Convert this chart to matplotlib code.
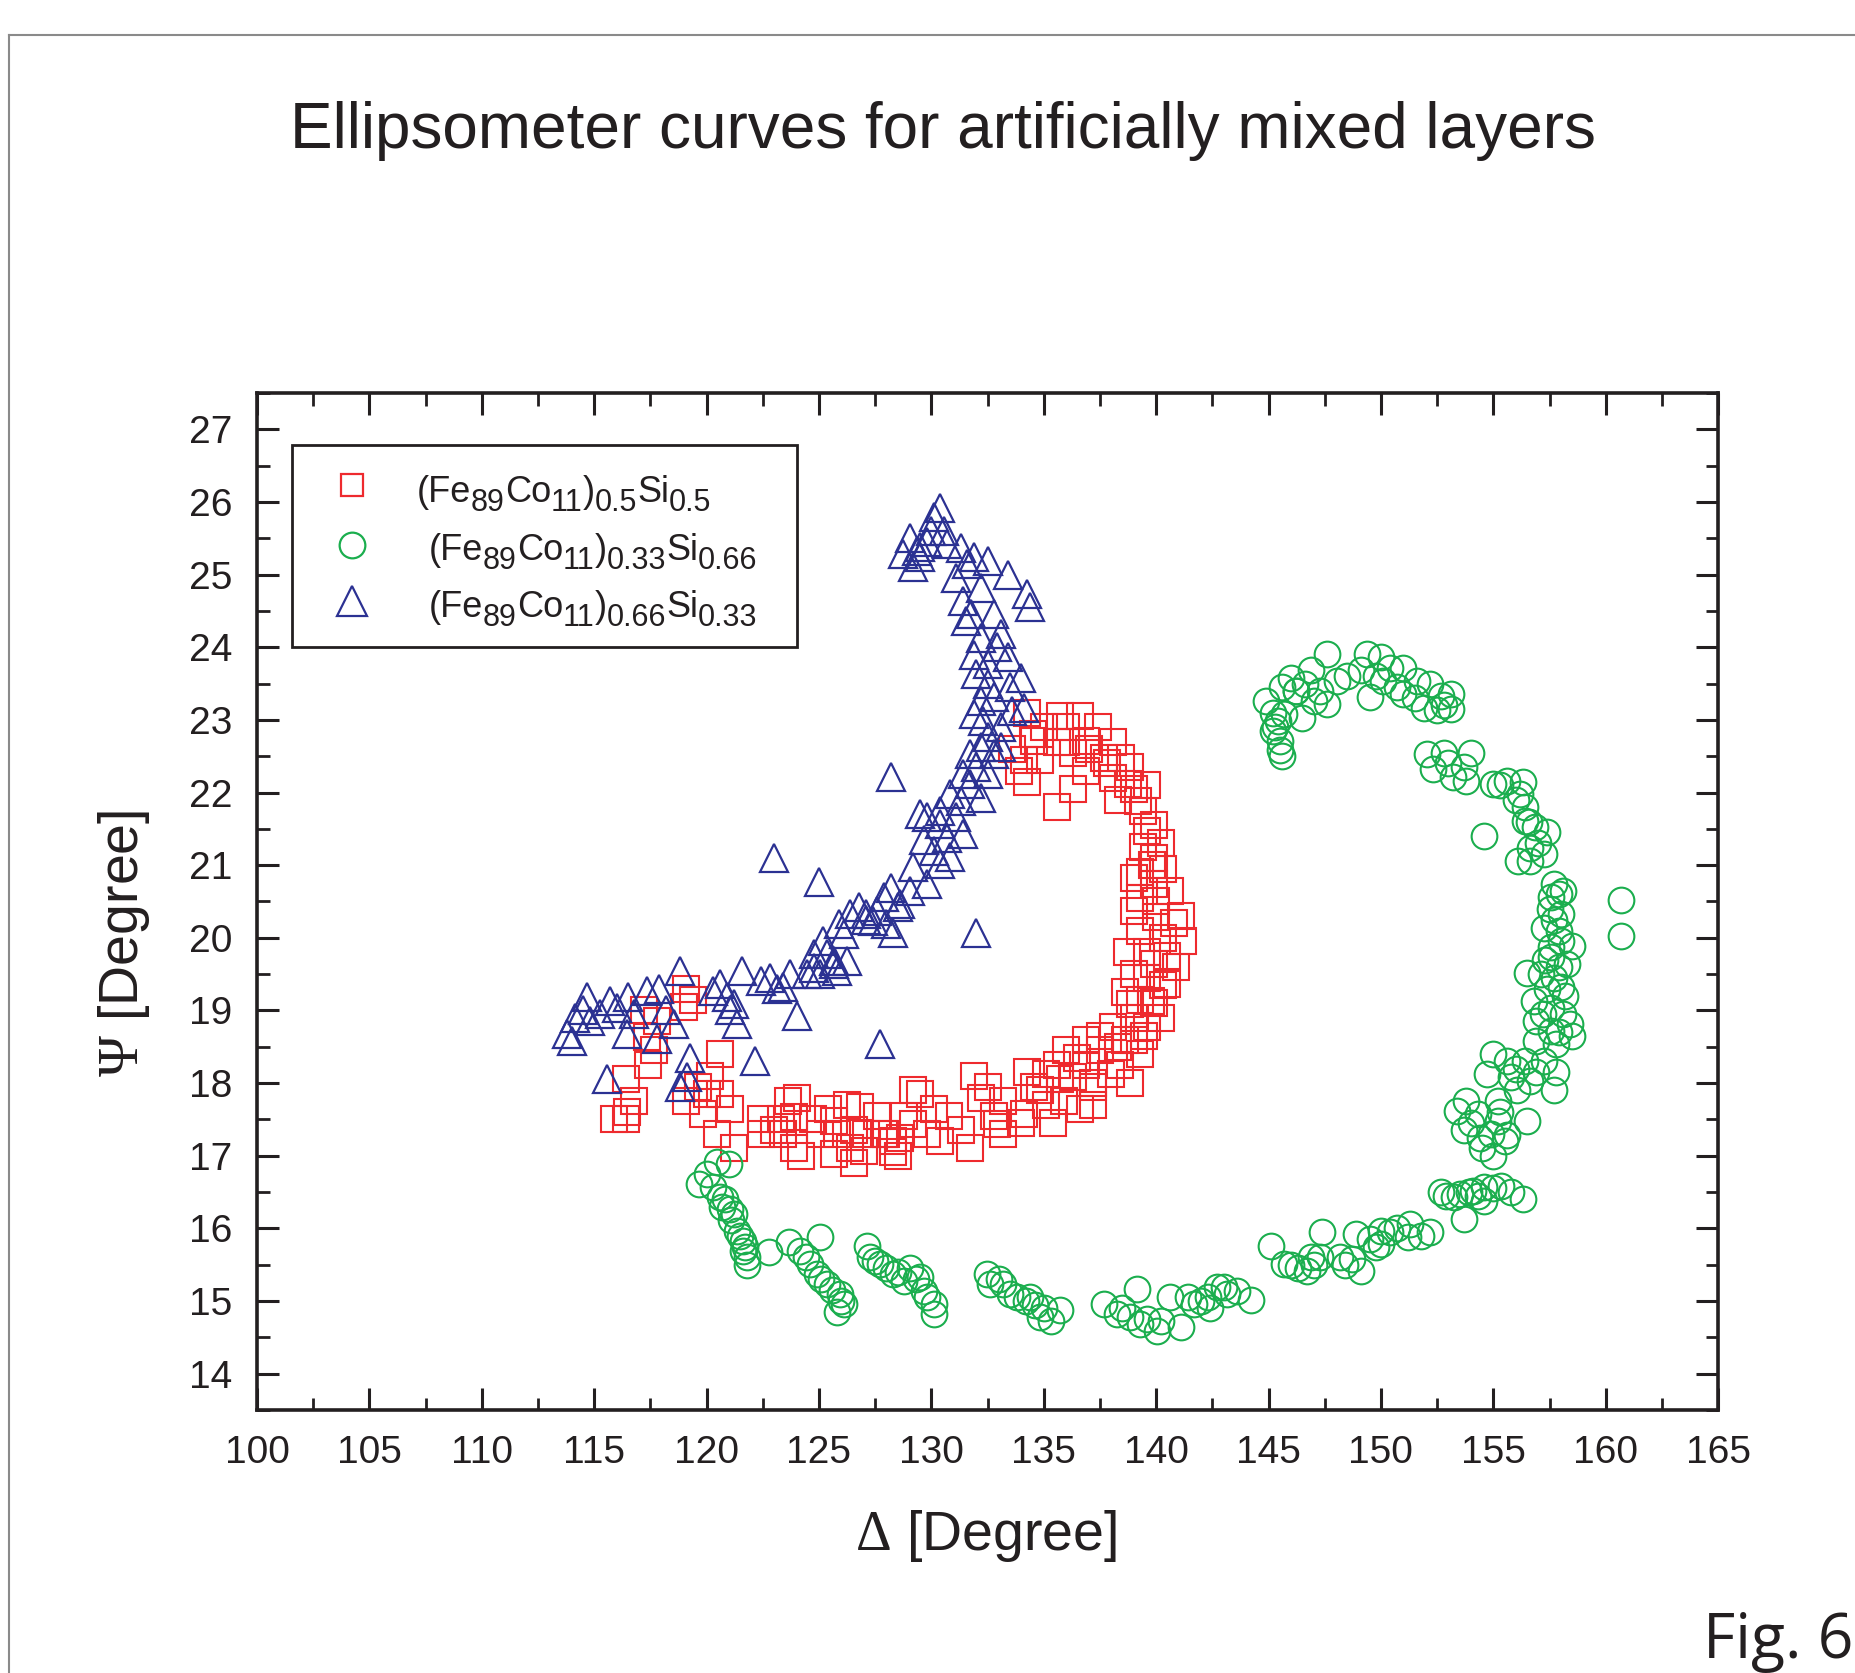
import matplotlib
matplotlib.use("Agg")
import matplotlib.pyplot as plt
from matplotlib.lines import Line2D
from matplotlib.patches import Rectangle
from matplotlib.ticker import MultipleLocator

plt.rcParams['font.family'] = ['Liberation Sans', 'DejaVu Sans']
plt.rcParams['mathtext.fontset'] = 'custom'
plt.rcParams['mathtext.rm'] = 'Liberation Sans'
plt.rcParams['mathtext.it'] = 'Liberation Sans'
plt.rcParams['mathtext.tt'] = 'Liberation Serif'
plt.rcParams['mathtext.default'] = 'regular'

# (Fe89Co11)0.5Si0.5 -- red squares
red_x = [115.9, 116.4, 116.45, 116.75, 116.4, 117.4, 117.65, 117.8, 119.0, 119.4, 119.1, 119.1,
         120.0, 120.15, 120.6, 121.05, 120.45, 121.2, 122.4, 122.4, 123.3, 123.4, 123.6, 123.9,
         124.0, 124.2, 124.75, 125.05, 125.4, 125.8, 126.25, 126.4, 126.55, 126.55, 127.1, 127.6,
         128.0, 128.3, 128.3, 128.5, 128.8, 129.2, 129.5, 130.1, 130.4, 130.8, 131.7, 131.9,
         132.5, 132.8, 133.2, 133.2, 134.0, 134.25, 134.85, 135.1, 135.4, 135.6, 135.7, 136.0,
         136.6, 136.9, 136.9, 137.2, 137.2, 137.5, 138.3, 138.4, 138.6, 138.85, 139.3, 139.45,
         139.0, 140.2, 139.3, 138.6, 139.6, 140.3, 140.5, 139.6, 138.7, 140.3, 141.2, 141.1,
         139.3, 140.0, 140.6, 139.3, 140.3, 139.4, 140.2, 139.9, 139.4, 139.6, 139.0, 138.85,
         138.1, 138.1, 137.4, 136.6, 135.7, 135.0, 134.25, 134.1, 134.85, 134.25, 135.6, 136.3,
         136.9, 136.3, 135.6, 136.0, 137.0, 137.8, 134.5, 133.6, 133.9, 138.3, 139.8, 140.8,
         140.9, 139.9, 139.0,
         134.55, 136.0, 136.9, 137.7, 138.45, 138.75, 139.2, 139.6, 139.9, 139.0, 139.9, 139.0,
         140.0, 139.3, 139.9, 139.0, 140.5, 139.75, 138.85, 139.6, 138.1, 137.5, 136.5, 138.0,
         136.3, 135.1, 134.55, 135.9, 137.2, 134.1, 132.9, 132.2, 131.3, 129.8, 129.2, 128.6,
         120.6, 119.6, 119.86, 123.0, 125.65, 126.84, 127.9, 127.0, 125.65, 123.87, 117.2, 117.35]
red_y = [17.5, 17.5, 17.6, 17.75, 18.05, 18.25, 18.45, 18.85, 19.05, 19.15, 19.3, 17.75,
         17.85, 18.1, 18.4, 17.65, 17.3, 17.1, 17.5, 17.3, 17.5, 17.3, 17.75, 17.1,
         17.8, 17.0, 17.5, 17.3, 17.65, 17.3, 17.7, 17.1, 16.9, 17.35, 17.3, 17.55,
         17.3, 17.2, 17.05, 17.0, 17.55, 17.9, 17.85, 17.65, 17.2, 17.55, 17.1, 18.1,
         17.95, 17.55, 17.75, 17.3, 17.45, 18.15, 17.9, 17.7, 17.45, 18.25, 18.05, 18.45,
         17.65, 18.25, 18.6, 18.0, 17.7, 18.65, 18.5, 18.25, 18.6, 18.0, 18.4, 18.65,
         18.9, 18.9, 19.15, 19.25, 19.45, 19.35, 19.75, 19.8, 19.8, 20.0, 19.95, 20.3,
         20.55, 20.5, 20.65, 20.9, 20.95, 21.25, 21.3, 21.55, 21.75, 22.1, 22.05, 22.35,
         22.2, 22.7, 22.9, 23.05, 23.05, 22.9, 23.1, 22.45, 22.45, 22.15, 22.7, 22.55,
         22.3, 22.05, 21.8, 22.7, 22.6, 22.4, 22.8, 22.6, 22.3, 21.9, 21.0, 20.2,
         19.6, 19.1, 18.6,
         22.71, 22.9, 22.71, 22.48, 22.48, 22.12, 21.89, 21.47, 21.1, 20.83, 20.74, 20.37,
         20.28, 20.1, 19.64, 19.5, 19.36, 19.13, 19.09, 18.77, 18.77, 18.45, 18.35, 18.13,
         18.08, 18.13, 17.94, 17.76, 17.94, 17.58, 17.44, 17.8, 17.35, 17.3, 17.44, 17.25,
         17.85, 17.94, 17.58, 17.35, 17.48, 17.67, 17.3, 17.07, 17.02, 17.53, 19.0, 18.63]

# (Fe89Co11)0.33Si0.66 -- green circles
green_x = [120.46, 120.98, 120.0, 119.64, 120.3, 120.6, 120.7, 121.05, 121.1, 121.35, 121.64,
           121.64, 121.8, 121.8, 122.76, 123.65, 124.17, 125.06, 124.6, 124.9, 125.35, 125.95,
           126.1, 125.8, 127.13, 127.28, 127.73, 128.3, 129.06, 128.76, 129.5, 129.65, 130.1,
           130.1, 132.47, 132.6, 133.2, 133.8, 134.4, 135.0, 135.7, 134.85, 135.3, 137.7,
           138.26, 139.15, 138.85, 139.3, 140.04, 140.2, 141.1, 140.6, 141.4, 141.7, 142.3,
           142.7, 143.15, 143.6, 144.2, 142.4, 145.1, 145.7, 146.3, 146.7, 146.9, 147.3,
           147.4, 148.2, 148.7, 149.1, 148.9, 149.5, 150.0, 150.0, 150.7, 151.3, 151.2,
           152.2, 152.65, 153.7, 153.5, 154.1, 154.6, 154.6, 155.35, 156.3, 153.25,
           145.5, 145.5, 145.2, 145.4, 144.9, 145.7, 146.5, 146.0, 147.0, 146.9, 147.6,
           147.6, 148.05, 149.1, 149.4, 150.0, 149.5, 150.1, 150.4, 151.0, 151.0, 151.6,
           152.2, 151.9, 152.65, 153.1, 153.1, 152.5, 145.6, 146.2,
           152.05, 152.8, 154.0, 152.3, 153.2, 153.7, 153.8, 155.0, 155.6, 156.3, 156.2,
           156.4, 156.4, 156.85, 157.4, 154.6, 156.65, 156.1, 156.65, 157.25,
           157.7, 158.1, 157.55, 157.7, 157.25, 158.0, 157.55, 158.5, 157.55, 158.3, 156.5,
           157.1, 157.7, 158.0, 156.8, 157.55, 158.1, 156.9, 158.4, 158.5, 157.55, 156.9,
           157.8, 155.0, 155.6, 156.4, 157.25, 154.7, 155.8, 156.65, 157.8, 157.7, 156.05,
           153.4, 153.8, 154.3, 155.2, 155.2, 156.5, 153.7, 154.9, 155.6, 155.0, 154.5,
           155.5, 160.7, 160.7,
           120.8, 121.2, 121.5, 121.7, 124.4, 125.1, 125.6, 126.0, 127.5, 128.0, 128.5,
           129.3, 129.8, 133.0, 133.5, 134.2, 134.6, 138.5, 139.6, 142.0, 143.0, 146.0,
           147.0, 148.4, 149.8, 150.4, 151.8, 152.9, 153.9, 154.3, 155.0, 155.8,
           153.0, 155.3, 156.0, 156.6, 157.0, 157.9, 157.5, 157.9, 158.0, 157.3, 157.9,
           157.4, 158.2, 157.2, 157.9, 156.0, 156.9, 155.3, 154.0, 154.4, 145.3, 145.6,
           145.2, 146.2, 146.6, 147.3, 148.5, 149.8, 150.7, 152.8, 151.5]
green_y = [16.91, 16.89, 16.75, 16.61, 16.57, 16.43, 16.29, 16.27, 16.11, 15.97, 15.83,
           15.69, 15.60, 15.49, 15.67, 15.81, 15.69, 15.88, 15.51, 15.37, 15.24, 15.10,
           14.96, 14.85, 15.76, 15.60, 15.51, 15.37, 15.46, 15.28, 15.33, 15.14, 14.96,
           14.82, 15.37, 15.24, 15.24, 15.05, 15.05, 14.91, 14.87, 14.78, 14.73, 14.96,
           14.82, 15.17, 14.78, 14.69, 14.59, 14.73, 14.64, 15.05, 15.05, 14.96, 15.05,
           15.19, 15.10, 15.14, 15.01, 14.91, 15.76, 15.51, 15.46, 15.42, 15.60, 15.60,
           15.95, 15.60, 15.58, 15.42, 15.92, 15.86, 15.97, 15.79, 16.01, 16.06, 15.88,
           15.95, 16.50, 16.13, 16.47, 16.52, 16.57, 16.38, 16.59, 16.41, 16.43,
           22.58, 22.71, 22.85, 22.99, 23.26, 23.08, 23.03, 23.58, 23.26, 23.68, 23.91,
           23.22, 23.54, 23.68, 23.91, 23.86, 23.31, 23.54, 23.72, 23.72, 23.35, 23.54,
           23.49, 23.17, 23.33, 23.36, 23.15, 23.13, 23.45, 23.40,
           22.53, 22.55, 22.55, 22.32, 22.21, 22.35, 22.16, 22.12, 22.16, 22.14, 21.98,
           21.80, 21.61, 21.52, 21.45, 21.40, 21.24, 21.06, 21.06, 21.15,
           20.74, 20.65, 20.56, 20.24, 20.14, 20.33, 19.87, 19.89, 19.73, 19.64, 19.52,
           19.50, 19.45, 19.32, 19.13, 19.04, 18.95, 18.86, 18.81, 18.65, 18.72, 18.58,
           18.54, 18.40, 18.31, 18.31, 18.31, 18.13, 18.08, 18.03, 18.15, 17.90, 17.90,
           17.62, 17.76, 17.57, 17.76, 17.48, 17.48, 17.35, 17.30, 17.28, 17.00, 17.10,
           17.20, 20.52, 20.03,
           16.4, 16.2, 15.9, 15.75, 15.6, 15.3, 15.15, 15.0, 15.55, 15.45, 15.4,
           15.3, 15.05, 15.3, 15.1, 15.0, 14.95, 14.9, 14.75, 15.0, 15.2, 15.5,
           15.5, 15.5, 15.75, 15.95, 15.9, 16.45, 16.5, 16.45, 16.55, 16.5,
           22.4, 22.1, 21.9, 21.6, 21.3, 20.6, 20.4, 20.1, 19.95, 19.7, 19.6,
           19.3, 19.2, 18.95, 18.7, 18.2, 18.15, 17.6, 17.45, 17.25, 22.9, 22.5,
           23.1, 23.4, 23.5, 23.4, 23.6, 23.6, 23.45, 23.2, 23.3]

# (Fe89Co11)0.66Si0.33 -- blue triangles
blue_x = [114.0, 114.15, 114.67, 115.26, 116.0, 116.5, 116.45, 117.35, 117.86, 117.79, 118.53,
          118.83, 115.56, 119.27, 119.12, 118.83, 120.3, 120.9, 121.05, 121.35, 121.57, 122.16,
          123.13, 124.0, 124.76, 125.65, 126.4, 127.4, 127.7, 128.3, 128.6, 123.7, 125.05,
          126.24, 123.0, 125.0, 128.2, 132.0,
          129.06, 129.36, 129.2, 130.1, 130.4, 130.7, 131.3, 131.9, 132.5, 133.4, 134.25,
          134.4, 131.1, 131.4, 131.55, 132.2, 131.9, 132.5, 133.1, 133.4, 133.97, 133.5,
          132.5, 132.2, 134.1, 132.3, 133.1, 132.2, 132.8, 132.0, 131.7, 132.5, 131.3,
          132.2, 129.8, 130.4, 131.1, 131.4, 130.1, 130.84, 129.8, 129.06, 128.2, 128.5,
          127.6, 127.1, 126.1, 124.76, 125.65, 133.6, 129.8, 130.0, 129.5,
          130.55, 129.5, 128.75, 131.6, 132.2, 131.75, 132.8, 132.9, 132.0, 132.8, 131.9,
          132.5, 133.1, 131.7, 131.4, 130.84, 130.4, 129.5, 130.7, 129.66, 130.4, 129.2,
          127.9, 126.8, 125.9, 125.2,
          113.8, 114.5, 114.8, 115.7, 116.75, 118.2, 120.6, 121.2, 122.4, 122.8, 123.4,
          124.46, 125.35, 125.8, 127.1, 128.0]
blue_y = [18.58, 18.90, 19.18, 18.95, 19.04, 19.18, 18.68, 19.27, 19.30, 18.61, 18.81,
          19.55, 18.06, 18.35, 18.08, 17.94, 19.27, 19.18, 19.0, 18.82, 19.55, 18.31,
          19.30, 18.93, 19.59, 19.68, 20.33, 20.23, 18.54, 20.06, 20.47, 19.5, 19.5,
          19.68, 21.10, 20.77, 22.21, 20.07,
          25.51, 25.33, 25.10, 25.79, 25.92, 25.42, 25.37, 25.24, 25.19, 25.0, 24.73,
          24.55, 24.96, 24.64, 24.36, 24.13, 23.9, 23.77, 24.18, 23.86, 23.58, 23.45,
          23.49, 23.26, 23.17, 22.99, 22.9, 22.62, 22.53, 22.35, 22.12, 22.25, 21.89,
          21.93, 21.66, 21.57, 21.66, 21.43, 21.2, 21.11, 20.74, 20.65, 20.69, 20.42,
          20.37, 20.24, 20.05, 19.78, 19.64, 23.12, 25.45, 25.60, 25.38,
          25.6, 25.24, 25.28, 25.14, 24.82, 24.46, 24.46, 24.0, 23.63, 23.31, 23.08,
          22.76, 22.62, 22.53, 22.25, 21.98, 21.75, 21.70, 21.38, 21.34, 21.02, 20.97,
          20.56, 20.42, 20.19, 19.96,
          18.68, 19.0, 18.86, 19.13, 18.95, 19.0, 19.37, 19.09, 19.41, 19.45, 19.32,
          19.5, 19.78, 19.55, 20.33, 20.19]

# legend labels as (text, is_subscript) pieces
label_red = [('(Fe', 0), ('89', 1), ('Co', 0), ('11', 1), (')', 0), ('0.5', 1), ('Si', 0), ('0.5', 1)]
label_green = [('(Fe', 0), ('89', 1), ('Co', 0), ('11', 1), (')', 0), ('0.33', 1), ('Si', 0), ('0.66', 1)]
label_blue = [('(Fe', 0), ('89', 1), ('Co', 0), ('11', 1), (')', 0), ('0.66', 1), ('Si', 0), ('0.33', 1)]

colors = ['#EE2A2E', '#1BAE4E', '#2B3192']
ink = '#231F20'

fig = plt.figure(figsize=(18.56, 16.73), dpi=100)
ax = fig.add_axes((0.1385, 0.1572, 0.7872, 0.6079))

ax.plot(red_x, red_y, 's', ms=19, mfc='none', mec=colors[0], mew=1.5)
ax.plot(green_x, green_y, 'o', ms=18.5, mfc='none', mec=colors[1], mew=1.5)
ax.plot(blue_x, blue_y, '^', ms=19.5, mfc='none', mec=colors[2], mew=1.6)

ax.set_xlim(100, 165)
ax.set_ylim(13.5, 27.5)
ax.xaxis.set_major_locator(MultipleLocator(5))
ax.xaxis.set_minor_locator(MultipleLocator(2.5))
ax.yaxis.set_major_locator(MultipleLocator(1))
ax.yaxis.set_minor_locator(MultipleLocator(0.5))
ax.tick_params(which='both', direction='in', top=True, right=True, colors=ink,
               labelsize=28, labelcolor=ink)
ax.tick_params(which='major', length=16, width=2.2, pad=18)
ax.tick_params(which='minor', length=9, width=2.0)
for sp in ax.spines.values():
    sp.set_linewidth(2.6)
    sp.set_color(ink)

# hand-built legend box so the subscripts can be sized like the original
ax.add_patch(Rectangle((0.0242, 0.7498), 0.3451, 0.199, transform=ax.transAxes,
                       facecolor='white', edgecolor=ink, lw=2.0, zorder=5))


def write_label(x, y, pieces, main=26, sub=22, drop=6.5):
    prev = ax.text(x, y, pieces[0][0], transform=ax.transAxes, fontsize=main,
                   va='baseline', ha='left', color=ink, zorder=6)
    for txt, is_sub in pieces[1:]:
        prev = ax.annotate(txt, xy=(1, y), xycoords=(prev, 'axes fraction'),
                           xytext=(0, -drop if is_sub else 0), textcoords='offset points',
                           fontsize=sub if is_sub else main, va='baseline', ha='left',
                           color=ink, zorder=6)


entries = [('s', 16, colors[0], 0.9092, 0.1093, 0.8928, label_red),
           ('o', 18.5, colors[1], 0.8510, 0.1174, 0.8358, label_green),
           ('^', 21, colors[2], 0.7952, 0.1174, 0.7797, label_blue)]
for mk, ms, col, my, tx, ty, pieces in entries:
    ax.plot([0.0648], [my], mk, ms=ms, mfc='none', mec=col, mew=1.6,
            transform=ax.transAxes, clip_on=False, zorder=6)
    write_label(tx, ty, pieces)

fig.text(0.508, 0.9115, 'Ellipsometer curves for artificially mixed layers',
         ha='center', va='baseline', fontsize=46, color=ink)
fig.text(0.531, 0.0819, r'$\mathtt{\Delta}$ [Degree]', ha='center', va='center',
         fontsize=40, color=ink)
fig.text(0.0668, 0.4363, r'$\mathtt{\Psi}$ [Degree]', ha='center', va='center',
         rotation=90, fontsize=40, color=ink)
fig.text(0.9985, 0.009, 'Fig. 6', ha='right', va='baseline', fontsize=45,
         color=ink, family=['Open Sans', 'DejaVu Sans'])

# page border (top and left edges of the scanned page)
fig.add_artist(Line2D([0.005, 1.0], [0.979, 0.979], color='#8a8a8a', lw=1.5))
fig.add_artist(Line2D([0.005, 0.005], [0.0, 0.979], color='#8a8a8a', lw=1.5))

fig.savefig('out.png', dpi=100)
